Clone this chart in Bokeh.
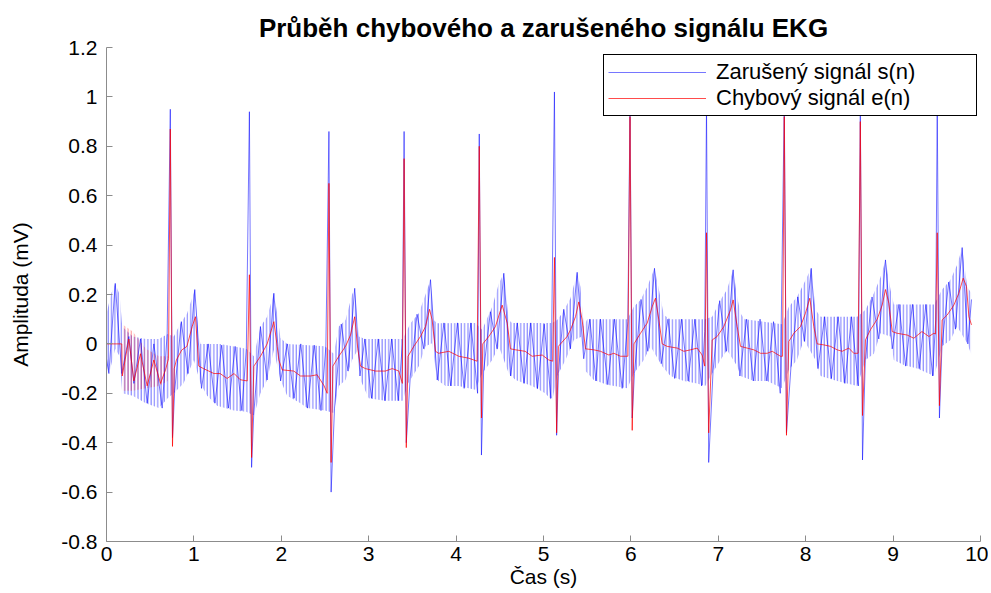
from bokeh.plotting import figure
from bokeh.models import FixedTicker, Legend, LegendItem, Range1d
from bokeh.embed import file_html
from bokeh.resources import INLINE

# ---------------- data ----------------
x_ticks = [0, 1, 2, 3, 4, 5, 6, 7, 8, 9, 10]
y_ticks = [-0.8, -0.6, -0.4, -0.2, 0, 0.2, 0.4, 0.6, 0.8, 1, 1.2]
y_tick_labels = ["-0.8", "-0.6", "-0.4", "-0.2", "0", "0.2", "0.4", "0.6", "0.8", "1", "1.2"]

# QRS complexes (R-peak times, s)
beat_t = [0.73, 1.635, 2.545, 3.405, 4.265, 5.125, 5.99, 6.865, 7.755, 8.625, 9.505]
s_peak = [0.95, 0.94, 0.86, 0.86, 0.85, 1.02, 0.96, 0.96, 0.98, 0.96, 0.96]
s_trough = [-0.38, -0.50, -0.60, -0.40, -0.45, -0.37, -0.30, -0.48, -0.36, -0.47, -0.30]
e_peak = [0.87, 0.28, 0.65, 0.75, 0.80, 0.35, 0.92, 0.45, 0.92, 0.90, 0.45]
e_trough = [-0.415, -0.46, -0.48, -0.42, -0.30, -0.36, -0.35, -0.36, -0.37, -0.29, -0.25]

# noisy signal s(n): visible zig-zag vertices
s_zig_t = [
    0.0, 0.027, 0.10, 0.175, 0.256, 0.313, 0.389, 0.465, 0.542, 0.637, 0.694,
    0.78, 0.856, 0.933, 1.01, 1.087, 1.164, 1.241, 1.318, 1.395, 1.472, 1.549, 1.60,
    1.684, 1.761, 1.838, 1.915, 1.992, 2.069, 2.146, 2.223, 2.30, 2.377, 2.454, 2.51,
    2.609, 2.686, 2.763, 2.84, 2.90, 2.956, 3.032, 3.109, 3.185, 3.262, 3.338, 3.385,
    3.476, 3.553, 3.63, 3.707, 3.784, 3.861, 3.938, 4.015, 4.092, 4.169, 4.246,
    4.315, 4.392, 4.469, 4.546, 4.623, 4.70, 4.777, 4.854, 4.931, 5.008, 5.085,
    5.17, 5.231, 5.308, 5.385, 5.46, 5.53, 5.60, 5.652, 5.736, 5.812, 5.90, 5.965,
    6.04, 6.116, 6.193, 6.27, 6.347, 6.424, 6.501, 6.578, 6.655, 6.732, 6.809, 6.845,
    6.94, 7.016, 7.093, 7.17, 7.247, 7.324, 7.401, 7.478, 7.555, 7.632, 7.709,
    7.832, 7.909, 7.986, 8.063, 8.14, 8.217, 8.294, 8.371, 8.448, 8.525, 8.602,
    8.682, 8.759, 8.836, 8.913, 8.99, 9.067, 9.144, 9.221, 9.298, 9.375, 9.452, 9.488,
    9.559, 9.636, 9.713, 9.79, 9.855, 9.897]
s_zig_v = [
    -0.06, -0.12, 0.245, -0.12, 0.03, -0.16, 0.02, -0.24, 0.0, -0.26, 0.04,
    -0.19, 0.09, -0.12, 0.22, -0.18, 0.0, -0.24, -0.005, -0.26, -0.01, -0.27, -0.02,
    -0.29, 0.07, -0.146, 0.205, -0.15, 0.0, -0.22, 0.0, -0.26, -0.005, -0.27, -0.01,
    -0.26, 0.08, -0.11, 0.225, -0.13, 0.02, -0.22, 0.02, -0.23, 0.02, -0.23, 0.0,
    -0.13, 0.12, -0.02, 0.26, -0.146, 0.085, -0.17, 0.085, -0.18, 0.085, -0.20,
    -0.11, 0.13, -0.02, 0.286, -0.13, 0.085, -0.16, 0.085, -0.18, 0.08, -0.22,
    -0.12, 0.14, -0.02, 0.29, -0.06, 0.10, -0.15, 0.10, -0.165, 0.10, -0.18, 0.09,
    -0.12, 0.18, -0.03, 0.306, -0.08, 0.10, -0.14, 0.10, -0.15, 0.10, -0.17, 0.05,
    -0.11, 0.175, -0.03, 0.30, -0.13, 0.10, -0.15, 0.10, -0.15, 0.09, -0.20,
    -0.09, 0.19, 0.01, 0.306, -0.10, 0.11, -0.14, 0.11, -0.16, 0.11, -0.17,
    -0.065, 0.19, 0.02, 0.34, -0.02, 0.16, -0.09, 0.16, -0.10, 0.16, -0.13, 0.10,
    -0.01, 0.25, 0.06, 0.39, 0.0, 0.18]

# noisy signal s(n): upper / lower envelope of the fast oscillation
s_hi_t = [
    0.0, 0.05, 0.10, 0.15, 0.18, 0.30, 0.45, 0.60, 0.70,
    0.77, 0.847, 0.923, 1.01, 1.056, 1.075, 1.30, 1.60,
    1.686, 1.762, 1.838, 1.915, 1.953, 1.99, 2.067, 2.50,
    2.60, 2.658, 2.735, 2.81, 2.84, 2.887, 2.96, 3.39,
    3.478, 3.573, 3.65, 3.707, 3.745, 3.783, 4.22,
    4.298, 4.413, 4.489, 4.546, 4.603, 4.64, 5.10,
    5.156, 5.214, 5.309, 5.385, 5.423, 5.461, 5.50, 5.96,
    6.033, 6.11, 6.186, 6.27, 6.32, 6.377, 6.45, 6.85,
    6.93, 7.025, 7.10, 7.17, 7.216, 7.254, 7.30, 7.73,
    7.807, 7.90, 7.979, 8.063, 8.112, 8.17, 8.59,
    8.684, 8.78, 8.856, 8.913, 8.97, 9.008, 9.47,
    9.561, 9.657, 9.733, 9.79, 9.848, 9.897]
s_hi = [
    0.12, 0.20, 0.245, 0.20, 0.07, 0.03, 0.02, 0.02, 0.04,
    0.03, 0.084, 0.124, 0.22, 0.03, 0.0, 0.0, -0.02,
    -0.05, 0.07, 0.11, 0.205, 0.124, 0.024, 0.0, -0.01,
    -0.04, 0.07, 0.097, 0.20, 0.225, 0.03, 0.02, 0.02,
    0.084, 0.124, 0.20, 0.26, 0.097, 0.084, 0.085,
    0.057, 0.15, 0.245, 0.286, 0.097, 0.085, 0.085,
    0.097, 0.124, 0.185, 0.29, 0.23, 0.07, 0.10, 0.10,
    0.15, 0.178, 0.23, 0.306, 0.22, 0.117, 0.10, 0.10,
    0.11, 0.178, 0.22, 0.30, 0.19, 0.124, 0.10, 0.08,
    0.15, 0.19, 0.245, 0.306, 0.138, 0.11, 0.11,
    0.138, 0.205, 0.27, 0.34, 0.22, 0.16, 0.16,
    0.22, 0.26, 0.32, 0.39, 0.23, 0.205]
s_lo_t = [
    0.0, 0.03, 0.10, 0.15, 0.18, 0.30, 0.45, 0.60, 0.70,
    0.77, 0.88, 1.0, 1.075, 1.152, 1.266, 1.457, 1.60,
    1.686, 1.762, 1.838, 1.915, 1.99, 2.067, 2.22, 2.296, 2.50,
    2.60, 2.658, 2.735, 2.81, 2.875, 2.906, 3.0, 3.19, 3.39,
    3.45, 3.573, 3.65, 3.726, 3.783, 3.88, 4.03, 4.22,
    4.298, 4.413, 4.489, 4.603, 4.68, 4.87, 5.02, 5.10,
    5.156, 5.252, 5.347, 5.442, 5.48, 5.576, 5.728, 5.96,
    6.033, 6.148, 6.224, 6.358, 6.453, 6.606, 6.758, 6.85,
    6.93, 7.025, 7.10, 7.216, 7.254, 7.407, 7.56, 7.73,
    7.807, 7.90, 7.979, 8.112, 8.17, 8.36, 8.59,
    8.684, 8.78, 8.856, 8.97, 9.008, 9.123, 9.275, 9.47,
    9.561, 9.657, 9.733, 9.848, 9.897]
s_lo = [
    -0.08, -0.12, -0.02, -0.05, -0.20, -0.21, -0.24, -0.26, -0.22,
    -0.20, -0.16, -0.065, -0.16, -0.21, -0.25, -0.27, -0.275,
    -0.29, -0.20, -0.146, -0.025, -0.146, -0.21, -0.24, -0.26, -0.27,
    -0.28, -0.17, -0.146, -0.065, -0.025, -0.146, -0.22, -0.23, -0.23,
    -0.16, -0.09, -0.01, 0.003, -0.146, -0.17, -0.17, -0.186,
    -0.12, -0.065, -0.01, -0.12, -0.146, -0.17, -0.20, -0.23,
    -0.13, -0.065, 0.016, 0.03, -0.11, -0.146, -0.165, -0.18,
    -0.12, -0.065, -0.01, -0.09, -0.13, -0.15, -0.16, -0.17,
    -0.12, -0.065, -0.025, -0.09, -0.13, -0.15, -0.15, -0.18,
    -0.105, -0.065, 0.016, -0.065, -0.13, -0.15, -0.17,
    -0.065, -0.04, 0.043, 0.03, -0.065, -0.085, -0.10, -0.13,
    -0.01, 0.016, 0.07, 0.003, -0.045]

# error signal e(n) (outside the QRS spikes)
e_t = [
    0.0, 0.175, 0.18, 0.256, 0.313, 0.389, 0.465, 0.542, 0.618, 0.675, 0.71,
    0.775, 0.80, 0.86, 0.92, 0.98, 1.018, 1.056, 1.11, 1.23, 1.30, 1.38, 1.46, 1.53, 1.61,
    1.686, 1.762, 1.838, 1.915, 1.953, 1.972, 2.01, 2.143, 2.22, 2.334, 2.41, 2.49, 2.525,
    2.59, 2.658, 2.735, 2.792, 2.84, 2.875, 2.906, 2.963, 3.078, 3.19, 3.27, 3.345, 3.385,
    3.45, 3.516, 3.592, 3.65, 3.696, 3.726, 3.764, 3.80, 3.917, 4.03, 4.146, 4.24,
    4.305, 4.374, 4.45, 4.527, 4.585, 4.622, 4.68, 4.79, 4.87, 4.985, 5.06, 5.105,
    5.17, 5.195, 5.27, 5.309, 5.366, 5.404, 5.442, 5.48, 5.576, 5.652, 5.748, 5.805, 5.881, 5.965,
    6.035, 6.11, 6.186, 6.243, 6.281, 6.32, 6.358, 6.415, 6.53, 6.606, 6.682, 6.758, 6.815, 6.845,
    6.93, 6.987, 7.063, 7.14, 7.17, 7.216, 7.254, 7.33, 7.407, 7.483, 7.56, 7.617, 7.712, 7.735,
    7.807, 7.864, 7.94, 7.997, 8.047, 8.093, 8.131, 8.207, 8.284, 8.36, 8.417, 8.493, 8.55, 8.60,
    8.684, 8.74, 8.818, 8.875, 8.913, 8.951, 8.99, 9.046, 9.16, 9.237, 9.33, 9.409, 9.466, 9.485,
    9.561, 9.619, 9.695, 9.752, 9.802, 9.84, 9.867, 9.897]
e_v = [
    0.0, 0.0, -0.13, 0.02, -0.15, -0.04, -0.17, -0.065, -0.16, -0.105, -0.06,
    -0.10, -0.065, -0.025, -0.01, 0.07, 0.11, -0.09, -0.10, -0.12, -0.12, -0.14, -0.12, -0.145, -0.15,
    -0.09, -0.05, 0.0, 0.09, -0.01, -0.065, -0.105, -0.11, -0.13, -0.13, -0.125, -0.17, -0.20,
    -0.09, -0.05, -0.01, 0.036, 0.11, -0.02, -0.09, -0.10, -0.11, -0.11, -0.10, -0.11, -0.16,
    -0.05, -0.01, 0.03, 0.07, 0.14, 0.097, -0.03, -0.038, -0.03, -0.05, -0.058, -0.07,
    0.0, 0.03, 0.07, 0.157, 0.084, -0.02, -0.024, -0.03, -0.05, -0.045, -0.065, -0.07,
    -0.01, 0.0, 0.03, 0.057, 0.11, 0.17, 0.097, -0.02, -0.024, -0.03, -0.045, -0.038, -0.05, -0.05,
    0.0, 0.043, 0.084, 0.15, 0.185, 0.097, 0.0, -0.01, -0.017, -0.03, -0.024, -0.017, -0.045, -0.09,
    0.016, 0.03, 0.07, 0.138, 0.178, 0.07, -0.01, -0.017, -0.024, -0.038, -0.038, -0.03, -0.05, -0.05,
    0.01, 0.043, 0.07, 0.124, 0.185, 0.07, 0.0, -0.004, -0.01, -0.024, -0.03, -0.017, -0.038, -0.038,
    0.016, 0.057, 0.10, 0.157, 0.22, 0.165, 0.05, 0.043, 0.036, 0.023, 0.05, 0.03, 0.043, 0.04,
    0.097, 0.117, 0.157, 0.205, 0.266, 0.232, 0.11, 0.077]

# e(n) fast residual oscillation while the filter converges
e_noise_t = [0.18, 0.30, 0.45, 0.60, 0.70]
e_noise_hi = [0.08, 0.05, -0.02, -0.05, -0.05]
e_noise_lo = [-0.19, -0.19, -0.18, -0.17, -0.15]

assert len(s_zig_t) == len(s_zig_v)
assert len(s_hi_t) == len(s_hi) and len(s_lo_t) == len(s_lo)
assert len(e_t) == len(e_v)

# ---------------- assemble the polylines ----------------
TROUGH_LAG = 0.025
s_pts = sorted(list(zip(s_zig_t, s_zig_v))
               + list(zip(beat_t, s_peak))
               + [(t + TROUGH_LAG, v) for t, v in zip(beat_t, s_trough)])
e_pts = sorted(list(zip(e_t, e_v))
               + list(zip(beat_t, e_peak))
               + [(t + TROUGH_LAG, v) for t, v in zip(beat_t, e_trough)])
s_x = [a for a, b in s_pts]
s_y = [b for a, b in s_pts]
e_x = [a for a, b in e_pts]
e_y = [b for a, b in e_pts]

FONT = "Liberation Sans"

p = figure(width=988, height=590, output_backend="svg", toolbar_location=None,
           x_range=Range1d(0, 10), y_range=Range1d(-0.8, 1.2),
           min_border_left=106, min_border_right=8, min_border_top=47,
           min_border_bottom=49, background_fill_color="white",
           border_fill_color="white")

p.title.text = "Průběh chybového a zarušeného signálu EKG"
p.title.align = "center"
p.title.text_font = FONT
p.title.text_font_size = "26px"
p.title.text_font_style = "bold"
p.title.text_color = "black"
p.title.standoff = 10

p.outline_line_color = None
p.xgrid.visible = False
p.ygrid.visible = False

for ax in (p.xaxis[0], p.yaxis[0]):
    ax.axis_line_color = "#8c8c8c"
    ax.major_tick_line_color = "#8c8c8c"
    ax.major_tick_in = 6
    ax.major_tick_out = 0
    ax.minor_tick_line_color = None
    ax.major_label_text_font = FONT
    ax.major_label_text_font_size = "21px"
    ax.major_label_text_color = "black"
    ax.axis_label_text_font = FONT
    ax.axis_label_text_font_size = "21px"
    ax.axis_label_text_font_style = "normal"
    ax.axis_label_text_color = "black"

p.xaxis.ticker = FixedTicker(ticks=x_ticks)
p.yaxis.ticker = FixedTicker(ticks=y_ticks)
p.yaxis.major_label_overrides = {v: lab for v, lab in zip(y_ticks, y_tick_labels)}
p.xaxis.axis_label = "Čas (s)"
p.yaxis.axis_label = "Amplituda (mV)"
p.xaxis.major_label_standoff = 5
p.xaxis.axis_label_standoff = 1
p.yaxis.major_label_standoff = 9
p.yaxis.axis_label_standoff = 26

# fast oscillation of s(n): dense vertical strokes between its envelopes
p.patch(x=s_hi_t + s_lo_t[::-1], y=s_hi + s_lo[::-1],
        fill_color=None, line_color=None,
        hatch_pattern="vertical_line", hatch_color="#0000ff",
        hatch_alpha=0.45, hatch_scale=3.3, hatch_weight=1.2)
# residual oscillation of e(n) during convergence
p.patch(x=e_noise_t + e_noise_t[::-1], y=e_noise_hi + e_noise_lo[::-1],
        fill_color=None, line_color=None,
        hatch_pattern="vertical_line", hatch_color="#ff0000",
        hatch_alpha=0.35, hatch_scale=3.3, hatch_weight=1.2)

s_line = p.line(s_x, s_y, line_color="#0000ff", line_width=0.9, line_alpha=0.6)
e_line = p.line(e_x, e_y, line_color="#ff0000", line_width=1, line_alpha=0.7)

legend = Legend(items=[LegendItem(label="Zarušený signál s(n)", renderers=[s_line]),
                       LegendItem(label="Chybový signál e(n)", renderers=[e_line])],
                location=(497, 425))
legend.label_text_font = FONT
legend.label_text_font_size = "22px"
legend.label_text_color = "black"
legend.border_line_color = "black"
legend.border_line_width = 1
legend.border_line_alpha = 1
legend.background_fill_color = "white"
legend.background_fill_alpha = 1
legend.padding = 4
legend.margin = 0
legend.spacing = 0
legend.glyph_width = 98
legend.glyph_height = 22
legend.label_standoff = 10
legend.label_width = 256
p.add_layout(legend)

open("out.html", "w").write(file_html(p, INLINE))
